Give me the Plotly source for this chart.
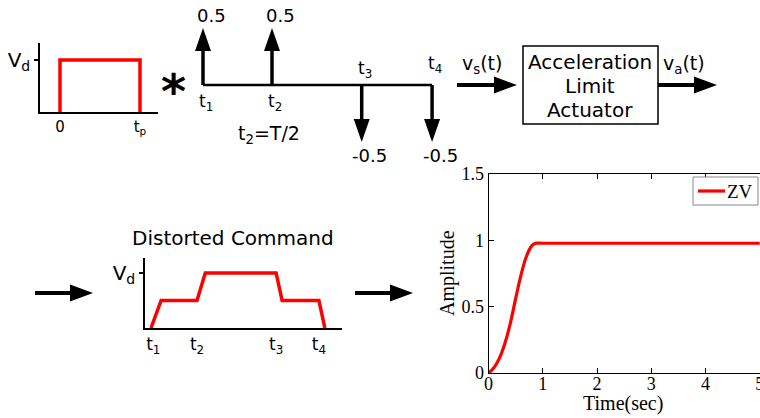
import plotly.graph_objects as go

W, H = 760, 418

# ---------------- data ----------------
# rectangular pulse (input command)
pulse_t = [0, 0, 1, 1]          # 0 .. tp
pulse_v = [0, 1, 1, 0]          # Vd normalised
pulse_ticks = [0, 1]
pulse_ticklabels = ["0", "t<sub>p</sub>"]

# impulse sequence of the shaper
imp_t = [0, 1, 2.3, 3.32]
imp_a = [0.5, 0.5, -0.5, -0.5]
imp_names = ["t<sub>1</sub>", "t<sub>2</sub>", "t<sub>3</sub>", "t<sub>4</sub>"]

# distorted command
cmd_t = [0, 0.22, 1.0, 1.18, 2.72, 2.85, 3.65, 3.78]
cmd_v = [0, 0.5, 0.5, 1, 1, 0.5, 0.5, 0]
cmd_ticks = [0.05, 1.0, 2.72, 3.65]
cmd_ticklabels = ["t<sub>1</sub>", "t<sub>2</sub>", "t<sub>3</sub>", "t<sub>4</sub>"]

# ZV response
resp_name = "ZV"
resp_t = [0, 0.1, 0.2, 0.3, 0.4, 0.5, 0.6, 0.7, 0.8, 0.87, 1.0, 2, 3, 4, 5]
resp_y = [0, 0.04, 0.11, 0.22, 0.37, 0.56, 0.74, 0.88, 0.96, 0.978, 0.978, 0.978, 0.978, 0.978, 0.978]
resp_xticks = [0, 1, 2, 3, 4, 5]
resp_yticks = [0, 0.5, 1, 1.5]


def px(x):
    return x / W


def py(y):
    return 1 - y / H


RED = "#ff0000"
SANS = "DejaVu Sans"
SERIF = "Liberation Serif"

fig = go.Figure()

# response curve
fig.add_trace(go.Scatter(x=resp_t, y=resp_y, mode="lines", name=resp_name, showlegend=False,
                         line=dict(color=RED, width=3.2), xaxis="x", yaxis="y",
                         line_shape="spline"))
# pulse
fig.add_trace(go.Scatter(x=pulse_t, y=pulse_v, mode="lines", showlegend=False,
                         line=dict(color=RED, width=3.5), xaxis="x2", yaxis="y2"))
# impulse baseline
fig.add_trace(go.Scatter(x=[imp_t[0], imp_t[-1]], y=[0, 0], mode="lines", showlegend=False,
                         line=dict(color="black", width=2.5), xaxis="x3", yaxis="y3"))
# impulse stems (shortened by arrow-head length)
IMP_PX_PER_UNIT = 130 / 1.14
head_len = 22 / IMP_PX_PER_UNIT
sx, sy = [], []
for t, a in zip(imp_t, imp_a):
    sgn = 1 if a > 0 else -1
    sx += [t, t, None]
    sy += [0, a - sgn * head_len + sgn * 0.01, None]
fig.add_trace(go.Scatter(x=sx, y=sy, mode="lines", showlegend=False,
                         line=dict(color="black", width=3.5), xaxis="x3", yaxis="y3"))
# distorted command
fig.add_trace(go.Scatter(x=cmd_t, y=cmd_v, mode="lines", showlegend=False,
                         line=dict(color=RED, width=3.5), xaxis="x4", yaxis="y4"))

shapes = []
annotations = []

# arrow heads on impulses
for t, a in zip(imp_t, imp_a):
    path = "M0,0 L-8,-23 L8,-23 Z" if a > 0 else "M0,0 L-8,23 L8,23 Z"
    shapes.append(dict(type="path", xref="x3", yref="y3", xsizemode="pixel", ysizemode="pixel",
                       xanchor=t, yanchor=a, path=path, fillcolor="black", line=dict(width=0)))


# horizontal arrows (paper)
def harrow(x0, x1, y, L=23, hw=8.5):
    shapes.append(dict(type="line", xref="paper", yref="paper", x0=px(x0), x1=px(x1 - L + 2),
                       y0=py(y), y1=py(y), line=dict(color="black", width=4)))
    shapes.append(dict(type="path", xref="paper", yref="paper", xsizemode="pixel", ysizemode="pixel",
                       xanchor=px(x1), yanchor=py(y), path=f"M0,0 L-{L},{hw} L-{L},-{hw} Z",
                       fillcolor="black", line=dict(width=0)))


harrow(457, 517, 85)
harrow(658, 717, 85)
harrow(35, 93, 293)
harrow(355, 413, 293)

# actuator box
shapes.append(dict(type="rect", xref="paper", yref="paper", x0=px(523), x1=px(658),
                   y0=py(124), y1=py(46), line=dict(color="black", width=1.5)))

# legend box for the response plot (drawn manually so it does not push margins)
shapes.append(dict(type="rect", xref="paper", yref="paper", x0=px(693), x1=px(758),
                   y0=py(205), y1=py(177), fillcolor="white", line=dict(color="#888888", width=1)))
shapes.append(dict(type="line", xref="paper", yref="paper", x0=px(698), x1=px(725),
                   y0=py(191), y1=py(191), line=dict(color=RED, width=3.2)))


def txt(text, x, y, size=20, font=SANS, xanchor="center", **kw):
    annotations.append(dict(text=text, x=px(x), y=py(y), xref="paper", yref="paper",
                            showarrow=False, xanchor=xanchor, yanchor="middle",
                            font=dict(family=font, size=size, color="black"), **kw))


txt(resp_name, 726, 191, size=19, font=SERIF, xanchor="left", borderpad=0)
txt("Time(sec)", 623, 403, size=20, font=SERIF, borderpad=0)
txt("Amplitude", 447, 273, size=20, font=SERIF, textangle=-90)
txt("Acceleration", 590, 62)
txt("Limit", 590, 86)
txt("Actuator", 590, 110)
txt("v<sub>s</sub>(t)", 482, 65, size=19)
txt("v<sub>a</sub>(t)", 684, 65, size=19)
txt("Distorted Command", 233, 238)
txt("<b>*</b>", 173, 91, size=48, font="DejaVu Sans")

# impulse labels
for t, a, nm in zip(imp_t, imp_a, imp_names):
    annotations.append(dict(text=("0.5" if a > 0 else "-0.5"), x=t, y=a, xref="x3", yref="y3",
                            showarrow=False, xshift=8, yshift=(12 if a > 0 else -13),
                            font=dict(family=SANS, size=18, color="black")))
lab_shift = [-17, -17, 16, 21]
for t, nm, ys in zip(imp_t, imp_names, lab_shift):
    annotations.append(dict(text=nm, x=t, y=0, xref="x3", yref="y3", showarrow=False,
                            xshift=3, yshift=ys, font=dict(family=SANS, size=17, color="black")))
annotations.append(dict(text="t<sub>2</sub>=T/2", x=imp_t[1], y=0, xref="x3", yref="y3",
                        showarrow=False, xshift=-3, yshift=-49,
                        font=dict(family=SANS, size=19, color="black")))

fig.update_layout(
    width=W, height=H, margin=dict(l=0, r=0, t=0, b=0, autoexpand=False),
    paper_bgcolor="white", plot_bgcolor="white", showlegend=False,
    shapes=shapes, annotations=annotations,
    # response axes
    xaxis=dict(domain=[px(488.5), 1.0], range=[0, 5.004], anchor="y",
               showline=True, linecolor="black", linewidth=1, mirror="ticks",
               ticks="inside", ticklen=5, tickcolor="black", tickvals=resp_xticks,
               showgrid=False, zeroline=False, ticklabeloverflow="allow",
               ticklabelstandoff=-6,
               tickfont=dict(family=SERIF, size=18, color="black")),
    yaxis=dict(domain=[py(373), py(174)], range=[0, 1.5], anchor="x",
               showline=True, linecolor="black", linewidth=1,
               ticks="inside", ticklen=5, tickcolor="black", tickvals=resp_yticks,
               showgrid=False, zeroline=False, ticklabeloverflow="allow",
               tickfont=dict(family=SERIF, size=18, color="black")),
    yaxis5=dict(overlaying="y", side="right", anchor="x", range=[0, 1.5], tickvals=resp_yticks,
                ticks="inside", ticklen=5, tickcolor="#444444", showticklabels=False,
                showline=False, showgrid=False, zeroline=False),
    # pulse axes
    xaxis2=dict(domain=[px(40), px(158)], range=[-0.25, 1.225], anchor="y2",
                showline=True, linecolor="black", linewidth=1.5, ticks="",
                tickvals=pulse_ticks, ticktext=pulse_ticklabels,
                showgrid=False, zeroline=False,
                tickfont=dict(family=SANS, size=15, color="black")),
    yaxis2=dict(domain=[py(112), py(43)], range=[0, 1.327], anchor="x2",
                showline=True, linecolor="black", linewidth=1.5, ticks="outside", ticklen=4,
                tickwidth=1.5, tickcolor="black", tickvals=[1], ticktext=["V<sub>d</sub>"],
                showgrid=False, zeroline=False,
                tickfont=dict(family=SANS, size=20, color="black")),
    # impulse axes
    xaxis3=dict(domain=[px(180), px(455)], range=[-23 / 69, 252 / 69], anchor="y3",
                visible=False, zeroline=False, showgrid=False),
    yaxis3=dict(domain=[py(150), py(20)], range=[-0.57, 0.57], anchor="x3",
                visible=False, zeroline=False, showgrid=False),
    # distorted command axes
    xaxis4=dict(domain=[px(145), px(342)], range=[-6 / 46, 191 / 46], anchor="y4",
                showline=True, linecolor="black", linewidth=1.5, ticks="",
                tickvals=cmd_ticks, ticktext=cmd_ticklabels,
                showgrid=False, zeroline=False,
                tickfont=dict(family=SANS, size=17, color="black")),
    yaxis4=dict(domain=[py(328), py(258)], range=[0, 70 / 55], anchor="x4",
                showline=True, linecolor="black", linewidth=1.5, ticks="outside", ticklen=4,
                tickwidth=1.5, tickcolor="black", tickvals=[1], ticktext=["V<sub>d</sub>"],
                showgrid=False, zeroline=False,
                tickfont=dict(family=SANS, size=20, color="black")),
)

fig.write_html("out.html", post_script="document.body.style.margin='0';")
